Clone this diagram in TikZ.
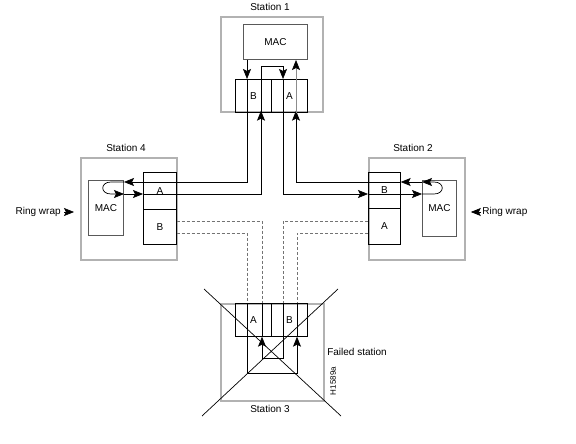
\documentclass[tikz,border=0pt]{standalone}
\usepackage{fontspec}
\setmainfont{Liberation Sans}
\usetikzlibrary{arrows.meta}

\tikzset{punta/.tip={Stealth[length=10bp, width=8bp, inset=2bp]}}

\begin{document}
\begin{tikzpicture}[x=1bp, y=-1bp, line width=0.7bp,
    font=\fontsize{10bp}{12bp}\selectfont,
    marco/.style={draw=black!30, line width=1.8bp, anchor=north west, inner sep=0pt},
    caja/.style={draw, anchor=north west, inner sep=0pt},
    mac/.style={caja, draw=black!65, line width=1bp},
    tam/.style 2 args={minimum width=#1bp, minimum height=#2bp},
    rotulo/.style={inner sep=1bp},
    guion/.style={draw=black!55, dash pattern=on 3bp off 2bp}]
  \useasboundingbox (0,0) rectangle (576,444);
  % marcos de las estaciones
  \node[marco, tam={102}{95}] (s1) at (220,16) {};
  \node[marco, tam={96}{102}] (s4) at (80,157) {};
  \node[marco, tam={96}{102}] (s2) at (368,157) {};
  \node[marco, tam={103}{97}] (s3) at (220,303) {};
  \node[rotulo] (n1) at (270,7) {Station 1};
  \node[rotulo] (n4) at (126,148) {Station 4};
  \node[rotulo] (n2) at (413,148) {Station 2};
  \node[rotulo] (n3) at (270,409) {Station 3};
  % MAC y puertos
  \node[mac, tam={64}{35}] (m1) at (243,24) {MAC};
  \node[caja, tam={36}{33}] (b1) at (235,79) {B};
  \node[caja, tam={36}{33}] (a1) at (271,79) {A};
  \node[mac, tam={35}{55}] (m4) at (88,180) {MAC};
  \node[caja, tam={33}{37}] (a4) at (143,172) {A};
  \node[caja, tam={33}{35}] (b4) at (143,209) {B};
  \node[mac, tam={34}{56}] (m2) at (422,180) {MAC};
  \node[caja, tam={32}{36}] (b2) at (368,172) {B};
  \node[caja, tam={32}{36}] (a2) at (368,208) {A};
  \node[caja, tam={36}{33}] (a3) at (235,303) {A};
  \node[caja, tam={36}{33}] (b3) at (271,303) {B};
  % esquinas del anillo
  \coordinate (c41) at (247,182);
  \coordinate (c42) at (261,194);
  \coordinate (c21) at (296,182);
  \coordinate (c22) at (283,194);
  \coordinate (t1) at (261,66);
  \coordinate (t2) at (283,66);
  \coordinate (l4a) at (111,182);
  \coordinate (l4b) at (111,194);
  \coordinate (l2a) at (434,194);
  \coordinate (l2b) at (434,182);
  % anillo activo (estaciones 1, 2 y 4)
  \draw[-punta] (m1.south -| c41) -- (b1.north -| c41);
  \draw[-punta] (b1.north -| c41) -- (c41) -- (m4.east |- c41);
  \draw[-punta] (m4.east |- c41) -- (l4a) .. controls +(-11,0) and +(-11,0) .. (l4b) -- (m4.east |- c42);
  \draw[-punta] (m4.east |- c42) -- (a4.west |- c42);
  \draw[-punta, shorten >=-2bp] (a4.west |- c42) -- (c42) -- (b1.south -| c42);
  \draw[-punta] (b1.south -| c42) -- (t1) -- (t2) -- (a1.north -| t2);
  \draw[-punta] (a1.north -| c22) -- (c22) -- (b2.west |- c22);
  \draw[-punta] (b2.west |- c22) -- (m2.west |- c22);
  \draw[-punta] (m2.west |- c22) -- (l2a) .. controls +(11,0) and +(11,0) .. (l2b) -- (m2.west |- c21);
  \draw[-punta] (m2.west |- c21) -- (b2.east |- c21);
  \draw[-punta, shorten >=-2bp] (b2.east |- c21) -- (c21) -- (a1.south -| c21);
  \draw[draw=black!45, -{punta[black]}] (a1.south -| c21) -- (m1.south -| c21);
  % ring wrap
  \node[rotulo, anchor=east] (rw4) at (62,212) {Ring wrap};
  \draw[-punta, shorten <=2bp, shorten >=6bp] (rw4.east) -- (rw4.east -| s4.west);
  \node[rotulo, anchor=west] (rw2) at (481,212) {Ring wrap};
  \draw[-punta, shorten >=5bp] (rw2.west) -- (rw2.west -| s2.east);
  % tramos hacia la estacion caida
  \coordinate (d41) at (262,221);
  \coordinate (d42) at (247,233);
  \coordinate (d21) at (283,221);
  \coordinate (d22) at (297,233);
  \draw[guion] (b4.east |- d41) -- (d41) -- (a3.north -| d41);
  \draw[guion] (b4.east |- d42) -- (d42) -- (a3.north -| d42);
  \draw[guion] (a2.west |- d21) -- (d21) -- (b3.north -| d21);
  \draw[guion] (a2.west |- d22) -- (d22) -- (b3.north -| d22);
  % estacion 3 en bucle
  \coordinate (u1) at (247,373);
  \coordinate (u2) at (297,373);
  \coordinate (v1) at (262,358);
  \coordinate (v2) at (283,358);
  \draw[-punta] (a3.north -| u1) -- (u1) -- (u2) -- (b3.south -| u2);
  \draw (b3.south -| u2) -- (b3.north -| u2);
  \draw[-punta] (b3.north -| v2) -- (v2) -- (v1) -- (a3.south -| v1);
  \draw (a3.south -| v1) -- (a3.north -| v1);
  % aspa de estacion caida
  \coordinate (x1) at (204,289);
  \coordinate (x2) at (341,416);
  \coordinate (x3) at (202,416);
  \coordinate (x4) at (338,289);
  \draw (x1) -- (x2) (x3) -- (x4);
  \node[rotulo] (fs) at (357,352) {Failed station};
  \node[rotulo, rotate=90, font=\fontsize{8bp}{9bp}\selectfont] (id) at (333,381) {H1589a};
\end{tikzpicture}
\end{document}
